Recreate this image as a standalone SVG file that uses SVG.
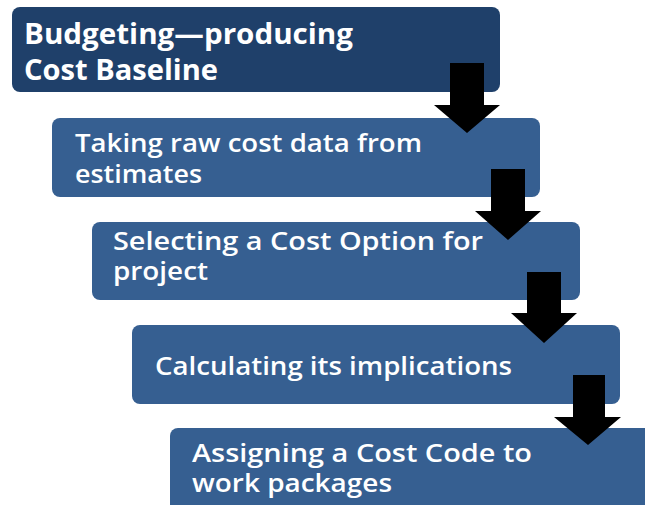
<svg xmlns="http://www.w3.org/2000/svg" width="645" height="505" viewBox="0 0 645 505">
<style>
.box{fill:#365f91;}
.dark{fill:#1f406a;}
.t{font-family:"Open Sans",Lato,sans-serif;font-weight:600;fill:#ffffff;font-size:26px;}
.t1{font-size:29px;font-weight:bold;}
.arr{fill:#000000;}
</style>
<rect width="645" height="505" fill="#ffffff"/>
<g id="n1"><rect class="dark" x="12" y="7" width="488" height="85" rx="8"/>
<text class="t t1" x="24" y="44" textLength="329" lengthAdjust="spacingAndGlyphs">Budgeting—producing</text><text class="t t1" x="24" y="80" textLength="194" lengthAdjust="spacingAndGlyphs">Cost Baseline</text></g>
<g id="n2"><rect class="box" x="52" y="118" width="488" height="79" rx="8"/>
<text class="t" x="75" y="152" textLength="347" lengthAdjust="spacingAndGlyphs">Taking raw cost data from</text><text class="t" x="75" y="183" textLength="127" lengthAdjust="spacingAndGlyphs">estimates</text></g>
<g id="n3"><rect class="box" x="92" y="222" width="488" height="78" rx="8"/>
<text class="t" x="113" y="250" textLength="370" lengthAdjust="spacingAndGlyphs">Selecting a Cost Option for</text><text class="t" x="113" y="280" textLength="95" lengthAdjust="spacingAndGlyphs">project</text></g>
<g id="n4"><rect class="box" x="132" y="325" width="488" height="79" rx="8"/>
<text class="t" x="155" y="375" textLength="357" lengthAdjust="spacingAndGlyphs">Calculating its implications</text></g>
<g id="n5"><rect class="box" x="170" y="428" width="490" height="90" rx="8"/>
<text class="t" x="192" y="462" textLength="340" lengthAdjust="spacingAndGlyphs">Assigning a Cost Code to</text><text class="t" x="192" y="492" textLength="200" lengthAdjust="spacingAndGlyphs">work packages</text></g>
<g id="connectors">
<polygon class="arr" points="450,63 484,63 484,105 500,105 467,133 434,105 450,105"/>
<polygon class="arr" points="491,169 525,169 525,211 541,211 508,240 475,211 491,211"/>
<polygon class="arr" points="527,272 561,272 561,313 577,313 544,343 511,313 527,313"/>
<polygon class="arr" points="573,375 605,375 605,417 621,417 588,445 554,417 573,417"/>
</g>
</svg>
